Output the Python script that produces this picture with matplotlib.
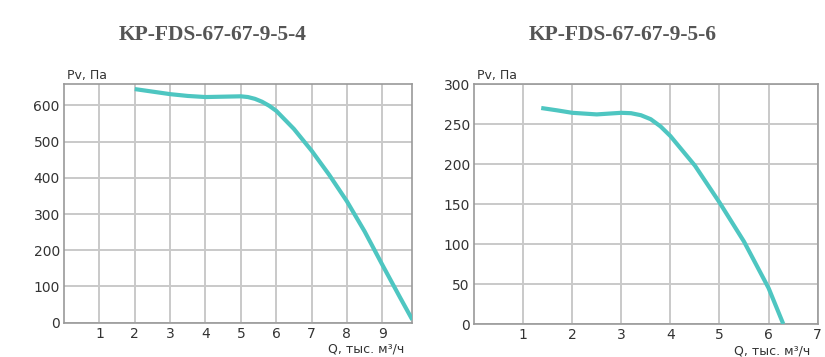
import matplotlib.pyplot as plt

# left chart: KP-FDS-67-67-9-5-4
q1 = [2.0, 2.5, 3.0, 3.5, 4.0, 4.5, 5.0, 5.2, 5.4, 5.6, 5.8, 6.0, 6.5, 7.0, 7.5, 8.0, 8.5, 9.0, 9.5, 9.85]
p1 = [645, 638, 631, 626, 623, 624, 625, 623, 618, 610, 599, 585, 535, 475, 408, 335, 252, 160, 70, 8]

# right chart: KP-FDS-67-67-9-5-6
q2 = [1.37, 1.7, 2.0, 2.5, 3.0, 3.2, 3.4, 3.6, 3.8, 4.0, 4.5, 5.0, 5.5, 6.0, 6.3]
p2 = [270, 267, 264, 262, 264, 263.5, 261, 256, 247, 235, 198, 152, 103, 45, 0]

titles = ["KP-FDS-67-67-9-5-4", "KP-FDS-67-67-9-5-6"]
line_color = "#4ec6c1"
grid_color = "#c9c9c9"
text_color = "#333333"

fig = plt.figure(figsize=(8.25, 3.57), dpi=100)
ax1 = fig.add_axes([0.0776, 0.0961, 0.4218, 0.6686])
ax2 = fig.add_axes([0.5745, 0.0924, 0.4166, 0.6723])

setups = [
    (ax1, q1, p1, (0, 9.84), (0, 659), range(1, 10), range(0, 601, 100), 213),
    (ax2, q2, p2, (0, 7), (0, 300), range(1, 8), range(0, 301, 50), 623),
]

for i, (ax, q, p, xl, yl, xt, yt, tx) in enumerate(setups):
    ax.plot(q, p, color=line_color, lw=3, solid_capstyle="butt",
            solid_joinstyle="round", zorder=3)
    ax.set_xlim(*xl)
    ax.set_ylim(*yl)
    ax.set_xticks(list(xt))
    ax.set_yticks(list(yt))
    ax.grid(True, color=grid_color, lw=1.4)
    ax.tick_params(length=0, labelsize=10, colors=text_color, pad=3)
    for s in ax.spines.values():
        s.set_color("#999999")
        s.set_linewidth(1.2)
    ax.text(0.01, 1.01, "Pv, Па", transform=ax.transAxes, fontsize=9,
            color=text_color, ha="left", va="bottom")
    ax.text(0.978, -0.085, "Q, тыс. м³/ч", transform=ax.transAxes, fontsize=9,
            color=text_color, ha="right", va="top")
    fig.text(tx / 825, 1 - 35 / 357, titles[i], fontsize=15.5, fontweight="bold",
             family="Liberation Serif", color="#555555", ha="center", va="center")

fig.savefig("out.png", dpi=100)
